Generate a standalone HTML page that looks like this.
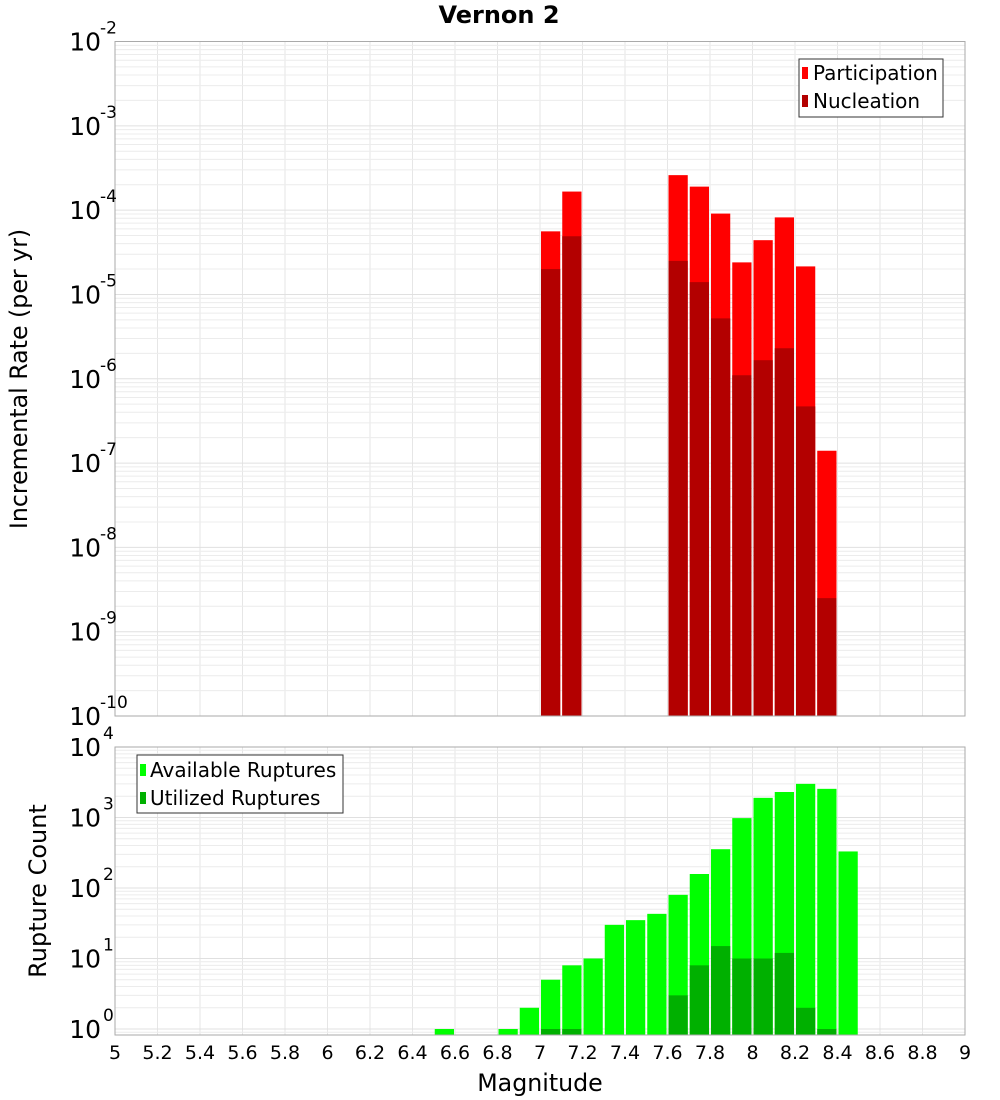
<!DOCTYPE html>
<html><head><meta charset="utf-8"><style>
body{margin:0;background:#fff;}
svg{display:block;font-family:"DejaVu Sans","Liberation Sans",sans-serif;}
</style></head><body>
<svg id="c" width="1000" height="1100"></svg>
<script>
const binStarts=[6.5,6.6,6.7,6.8,6.9,7.0,7.1,7.2,7.3,7.4,7.5,7.6,7.7,7.8,7.9,8.0,8.1,8.2,8.3,8.4];
const participation=[0,0,0,0,0,5.6e-5,1.66e-4,0,0,0,0,2.6e-4,1.9e-4,9.1e-5,2.4e-5,4.4e-5,8.2e-5,2.15e-5,1.4e-7,0];
const nucleation=[0,0,0,0,0,2.0e-5,4.9e-5,0,0,0,0,2.5e-5,1.4e-5,5.2e-6,1.1e-6,1.66e-6,2.3e-6,4.7e-7,2.5e-9,0];
const available=[1,0,0,1,2,5,8,10,30,35,43,80,158,355,980,1900,2300,3000,2550,330];
const utilized=[0,0,0,0,0,1,1,0,0,0,0,3,8,15,10,10,12,2,1,0];
const xTicks=[5,5.2,5.4,5.6,5.8,6,6.2,6.4,6.6,6.8,7,7.2,7.4,7.6,7.8,8,8.2,8.4,8.6,8.8,9];
const topExps=[-2,-3,-4,-5,-6,-7,-8,-9,-10];
const botExps=[4,3,2,1,0];

const NS="http://www.w3.org/2000/svg";
const svg=document.getElementById('c');
function el(t,a,p){const e=document.createElementNS(NS,t);for(const k in a)e.setAttribute(k,a[k]);(p||svg).appendChild(e);return e;}
const X0=115,X1=965;
const x=m=>X0+(m-5)/4*(X1-X0);
const T0=41.5,T1=716,TD=(T1-T0)/8;
const yT=v=>T0+(-2-Math.log10(v))*TD;
const B0=747,B1=1035,BD=70.5;
const yB=v=>B0+(4-Math.log10(v))*BD;

function grid(g,y0,y1,expHi,expLo,yf){
  for(const t of xTicks){el('line',{x1:x(t),x2:x(t),y1:y0,y2:y1,stroke:'#e6e6e6','stroke-width':1},g);}
  for(let e=expLo;e<expHi;e++)for(let k=1;k<=9;k++){const yy=yf(k*Math.pow(10,e));if(yy<y0||yy>y1)continue;
    el('line',{x1:X0,x2:X1,y1:yy,y2:yy,stroke:k==1?'#e0e0e0':'#ececec','stroke-width':1},g);}
}
const gt=el('g',{});
grid(gt,T0,T1,-2,-10,yT);
binStarts.forEach((m,i)=>{
  if(participation[i]>0){const r=el('rect',{x:x(m)+1,y:yT(participation[i]),width:x(m+0.1)-x(m)-2,height:T1-yT(participation[i]),fill:'#ff0000'},gt);
    }
  if(nucleation[i]>0){const r=el('rect',{x:x(m)+1,y:yT(nucleation[i]),width:x(m+0.1)-x(m)-2,height:T1-yT(nucleation[i]),fill:'#b30000'},gt);
    }
});
el('rect',{x:X0,y:T0,width:X1-X0,height:T1-T0,fill:'none',stroke:'#aaa'},gt);
topExps.forEach(e=>{const yy=yT(Math.pow(10,e));
  const t=el('text',{x:101,y:yy+9,'text-anchor':'end','font-size':25},gt);t.textContent='10';
  
  const s=el('text',{x:100,y:yy-8,'font-size':17},gt);s.textContent=String(e);
});
const gb=el('g',{});
grid(gb,B0,B1,4,-1,yB);
binStarts.forEach((m,i)=>{
  if(available[i]>0){const r=el('rect',{x:x(m)+1,y:yB(available[i]),width:x(m+0.1)-x(m)-2,height:B1-yB(available[i]),fill:'#00ff00'},gb);
    }
  if(utilized[i]>0){const r=el('rect',{x:x(m)+1,y:yB(utilized[i]),width:x(m+0.1)-x(m)-2,height:B1-yB(utilized[i]),fill:'#00b000'},gb);
    }
});
el('rect',{x:X0,y:B0,width:X1-X0,height:B1-B0,fill:'none',stroke:'#aaa'},gb);
botExps.forEach(e=>{const yy=yB(Math.pow(10,e));
  const t=el('text',{x:101,y:yy+9,'text-anchor':'end','font-size':25},gb);t.textContent='10';
  
  const s=el('text',{x:103,y:yy-8,'font-size':17},gb);s.textContent=String(e);
});
xTicks.forEach(t=>{const tx=el('text',{x:x(t),y:1059,'text-anchor':'middle','font-size':19},gb);tx.textContent=String(t);
  });
</script>
<svg style="position:absolute;left:0;top:0" width="1000" height="1100">
<text x="499" y="23" text-anchor="middle" font-size="24" font-weight="bold">Vernon 2</text>
<text transform="translate(27,379) rotate(-90)" text-anchor="middle" font-size="23.7">Incremental Rate (per yr)</text>
<text transform="translate(46,891) rotate(-90)" text-anchor="middle" font-size="24">Rupture Count</text>
<text x="540" y="1091" text-anchor="middle" font-size="23.7">Magnitude</text>
<g>
<rect x="799" y="59" width="144" height="58" fill="#fff" stroke="#333"/>
<rect x="802" y="67" width="6" height="12" fill="#ff0000"/>
<text x="813" y="80" font-size="20">Participation</text>
<rect x="802" y="95" width="6" height="12" fill="#b30000"/>
<text x="813" y="108" font-size="20">Nucleation</text>
</g>
<g>
<rect x="137" y="755" width="206" height="58" fill="#fff" stroke="#333"/>
<rect x="140" y="764" width="6" height="12" fill="#00ff00"/>
<text x="150" y="777" font-size="20">Available Ruptures</text>
<rect x="140" y="792" width="6" height="12" fill="#00b000"/>
<text x="150" y="805" font-size="20">Utilized Ruptures</text>
</g>
</svg>
</body></html>
